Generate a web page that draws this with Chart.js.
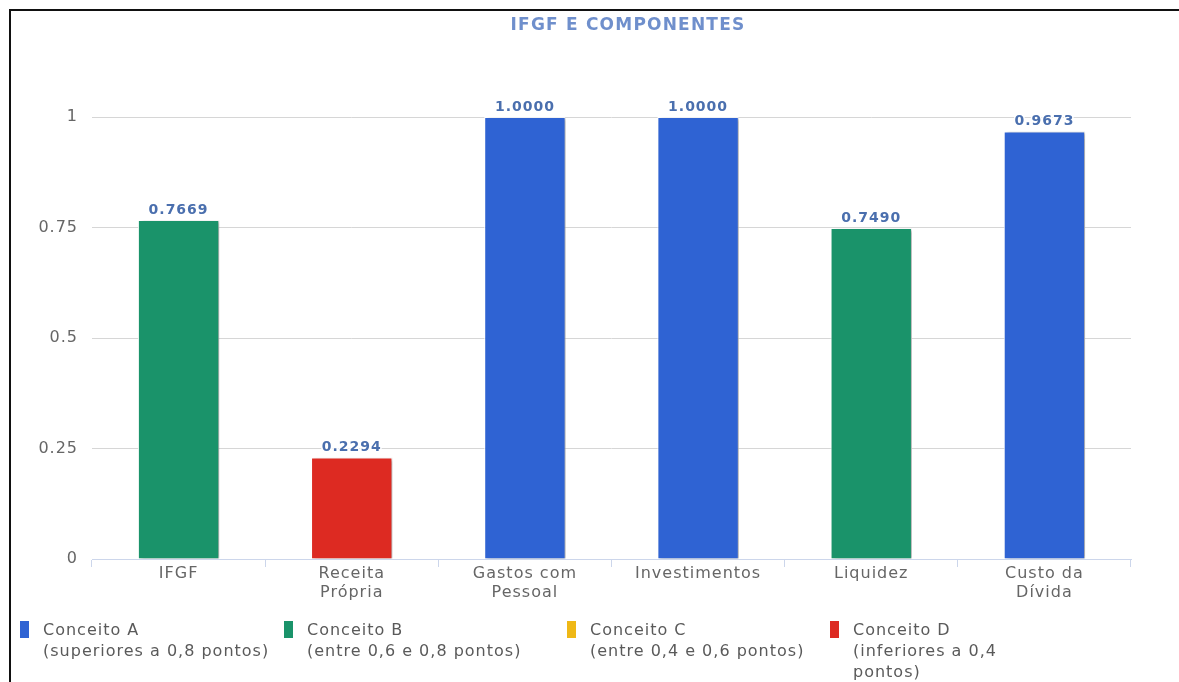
<!DOCTYPE html>
<html>
<head>
<meta charset="utf-8">
<script src="https://cdn.jsdelivr.net/npm/chart.js@4.4.1/dist/chart.umd.min.js"></script>
<style>
  html,body{margin:0;padding:0;background:#fff;}
  #wrap{position:relative;width:1179px;height:682px;overflow:hidden;font-family:"DejaVu Sans",sans-serif;}
  #frame{position:absolute;left:9px;top:9px;width:1200px;height:700px;border-left:2px solid #111;border-top:2px solid #111;}
  #title{position:absolute;left:0;width:1256px;top:14px;text-align:center;font-weight:bold;font-size:17px;letter-spacing:1.2px;color:#6f8fcc;}
  #legend .item{position:absolute;top:619px;}
  #legend .sym{position:absolute;left:0;top:2px;width:9px;height:17px;}
  #legend .txt{position:absolute;left:23px;top:0;font-size:16px;letter-spacing:1px;line-height:21px;color:#5a5a5a;white-space:nowrap;}
</style>
</head>
<body>
<div id="wrap">
  <canvas id="chart" width="1179" height="682"></canvas>
  <div id="frame"></div>
  <div id="title">IFGF E COMPONENTES</div>
  <div id="legend"></div>
</div>
<script>
var categories=[['IFGF'],['Receita','Própria'],['Gastos com','Pessoal'],['Investimentos'],['Liquidez'],['Custo da','Dívida']];
var values=[0.7669,0.2294,1.0000,1.0000,0.7490,0.9673];
var concepts=['B','D','A','A','B','A'];
var yTicks=[0,0.25,0.5,0.75,1];

var conceptNames=['A','B','C','D'];
var conceptColors={A:'#2f63d3',B:'#1a936a',C:'#efb816',D:'#dd2a22'};
var conceptText={
  A:['Conceito A','(superiores a 0,8 pontos)'],
  B:['Conceito B','(entre 0,6 e 0,8 pontos)'],
  C:['Conceito C','(entre 0,4 e 0,6 pontos)'],
  D:['Conceito D','(inferiores a 0,4','pontos)']
};
var legendX=[20,284,567,830];

// legend in html
var leg=document.getElementById('legend');
conceptNames.forEach(function(c,i){
  var d=document.createElement('div');
  d.className='item';
  d.style.left=legendX[i]+'px';
  d.innerHTML='<div class="sym" style="background:'+conceptColors[c]+'"></div><div class="txt">'+conceptText[c].join('<br>')+'</div>';
  leg.appendChild(d);
});

var shadowPlugin={
  id:'shadow',
  beforeDraw:function(chart){
    chart.ctx.letterSpacing='1px';
  },
  beforeDatasetsDraw:function(chart){
    var ctx=chart.ctx;
    ctx.save();
    ctx.shadowColor='rgba(0,0,0,0.3)';
    ctx.shadowOffsetX=3;
    ctx.shadowOffsetY=1;
    ctx.shadowBlur=3;
  },
  afterDatasetsDraw:function(chart){
    chart.ctx.restore();
    var ctx=chart.ctx;
    var meta=chart.getDatasetMeta(0);
    ctx.save();
    ctx.font='bold 14px "DejaVu Sans"';
    ctx.letterSpacing='1px';
    ctx.textAlign='center';
    ctx.textBaseline='bottom';
    ctx.lineJoin='round';
    meta.data.forEach(function(bar,i){
      var t=values[i].toFixed(4);
      ctx.lineWidth=3;
      ctx.strokeStyle='#fff';
      ctx.strokeText(t,bar.x,bar.y-3);
      ctx.fillStyle='#4a6fae';
      ctx.fillText(t,bar.x,bar.y-3);
    });
    ctx.restore();
  }
};

var chart=new Chart(document.getElementById('chart'),{
  type:'bar',
  data:{
    labels:categories,
    datasets:[{
      data:values,
      backgroundColor:concepts.map(function(c){return conceptColors[c];}),
      borderColor:'#fff',
      borderWidth:1,
      barPercentage:0.47,
      categoryPercentage:1
    }]
  },
  options:{
    responsive:false,
    animation:false,
    layout:{padding:{left:0,right:48,top:117,bottom:0}},
    plugins:{legend:{display:false},tooltip:{enabled:false}},
    scales:{
      x:{
        border:{color:'#ccd6eb',width:1},
        grid:{drawOnChartArea:false,drawTicks:true,tickLength:8,color:'#ccd6eb'},
        ticks:{color:'#666',font:{family:'DejaVu Sans',size:16,lineHeight:1.2},padding:-3,maxRotation:0,autoSkip:false},
        afterFit:function(s){s.height=682-559;}
      },
      y:{
        min:0,max:1,
        border:{display:false},
        grid:{color:function(c){return c.tick.value===0?'rgba(0,0,0,0)':'#d6d6d6';},drawTicks:false},
        afterBuildTicks:function(s){s.ticks=yTicks.map(function(v){return {value:v};});},
        ticks:{color:'#666',font:{family:'DejaVu Sans',size:16},padding:14,callback:function(v){return String(v);}},
        afterFit:function(s){s.width=92;}
      }
    }
  },
  plugins:[shadowPlugin]
});
</script>
</body>
</html>
